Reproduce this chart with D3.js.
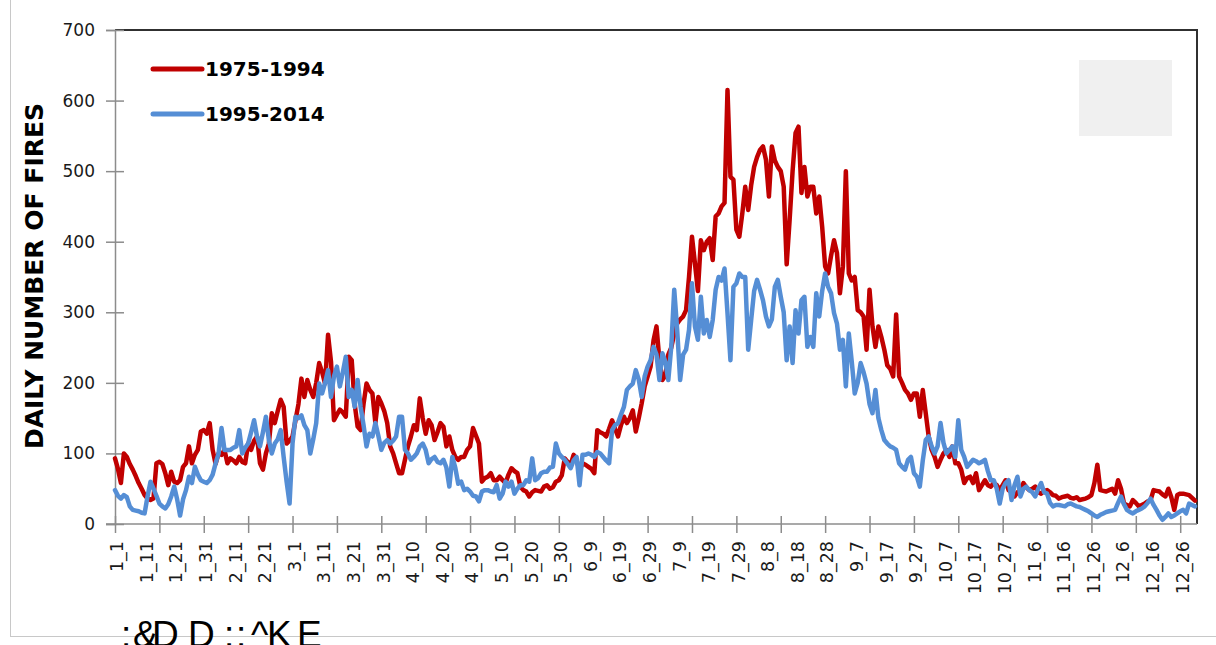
<!DOCTYPE html>
<html>
<head>
<meta charset="utf-8">
<script src="https://cdn.jsdelivr.net/npm/d3@7"></script>
<style>
  html, body { margin: 0; padding: 0; background: #fff; overflow: hidden; }
  svg { display: block; }
</style>
</head>
<body>
<div id="chart"></div>
<script>
// series names
const seriesNames = ["1975-1994", "1995-2014"];
const seriesColors = ["#c00000", "#558ed5"];

// day-of-year labels, one every 10 days
const dayLabels = ["1_1", "1_11", "1_21", "1_31", "2_11", "2_21", "3_1", "3_11", "3_21", "3_31",
  "4_10", "4_20", "4_30", "5_10", "5_20", "5_30", "6_9", "6_19", "6_29", "7_9",
  "7_19", "7_29", "8_8", "8_18", "8_28", "9_7", "9_17", "9_27", "10_7", "10_17",
  "10_27", "11_6", "11_16", "11_26", "12_6", "12_16", "12_26"];

const yTicks = [0, 100, 200, 300, 400, 500, 600, 700];

// daily number of fires, 1975-1994
const fires7594 = [
  93, 78, 58, 100, 95, 85, 77, 68, 58, 50,
  41, 36, 34, 36, 86, 88, 85, 72, 55, 74,
  60, 58, 62, 81, 86, 110, 86, 98, 105, 131,
  133, 128, 143, 105, 85, 100, 98, 105, 86, 93,
  90, 86, 95, 88, 86, 114, 105, 118, 124, 86,
  77, 100, 114, 157, 143, 160, 176, 166, 114, 118,
  124, 147, 170, 206, 180, 204, 190, 180, 200, 228,
  215, 199, 268, 230, 147, 155, 162, 158, 152, 237,
  232, 170, 138, 133, 170, 199, 190, 185, 143, 180,
  171, 160, 143, 110, 100, 86, 72, 72, 91, 110,
  124, 140, 133, 178, 150, 128, 147, 140, 119, 130,
  143, 138, 110, 124, 105, 95, 91, 95, 95, 105,
  110, 136, 125, 114, 60, 65, 67, 72, 62, 62,
  67, 62, 58, 70, 79, 75, 72, 53, 48, 46,
  39, 45, 48, 47, 46, 53, 55, 50, 52, 60,
  62, 69, 93, 88, 84, 98, 90, 76, 86, 84,
  81, 78, 72, 133, 130, 128, 124, 135, 147, 135,
  124, 140, 152, 143, 150, 161, 131, 150, 171, 195,
  209, 223, 260, 280, 232, 204, 210, 240, 250, 270,
  284, 290, 294, 303, 350, 407, 369, 330, 402, 388,
  400, 405, 374, 436, 440, 450, 455, 615, 492, 488,
  417, 407, 440, 478, 445, 480, 506, 520, 530, 535,
  516, 464, 535, 515, 506, 500, 478, 368, 431, 500,
  554, 563, 469, 506, 464, 478, 478, 440, 464, 421,
  365, 355, 380, 402, 384, 327, 365, 500, 355, 345,
  350, 303, 300, 294, 247, 332, 280, 251, 280, 265,
  247, 225, 220, 209, 297, 209, 200, 190, 185, 176,
  185, 185, 152, 190, 157, 124, 105, 95, 81, 91,
  100, 105, 95, 110, 86, 86, 77, 58, 65, 67,
  58, 72, 48, 55, 62, 55, 53, 58, 55, 48,
  55, 62, 48, 45, 39, 45, 48, 58, 52, 48,
  50, 53, 45, 43, 47, 48, 45, 41, 40, 36,
  38, 39, 40, 37, 36, 38, 34, 35, 36, 38,
  41, 58, 84, 48, 47, 46, 48, 50, 43, 62,
  50, 29, 27, 25, 34, 30, 25, 27, 29, 32,
  34, 48, 47, 46, 42, 39, 50, 38, 20, 41,
  43, 43, 42, 41, 37, 33
];

// daily number of fires, 1995-2014
const fires9514 = [
  48, 40, 36, 41, 38, 25, 20, 19, 18, 16,
  15, 39, 60, 50, 40, 29, 25, 22, 28, 39,
  53, 35, 12, 35, 48, 67, 58, 81, 70, 62,
  60, 58, 62, 70, 86, 100, 136, 105, 105, 105,
  108, 110, 133, 100, 108, 114, 130, 147, 124, 110,
  130, 152, 119, 100, 114, 120, 133, 95, 60, 29,
  114, 152, 150, 154, 140, 133, 100, 120, 143, 199,
  185, 200, 218, 180, 209, 223, 195, 215, 237, 180,
  190, 166, 204, 166, 140, 110, 128, 124, 143, 125,
  105, 115, 119, 114, 118, 124, 152, 152, 105, 100,
  91, 95, 100, 110, 114, 105, 86, 92, 95, 88,
  86, 91, 80, 53, 95, 80, 57, 60, 48, 50,
  46, 40, 39, 32, 46, 48, 48, 46, 45, 55,
  36, 43, 60, 53, 60, 43, 50, 55, 55, 62,
  60, 93, 62, 65, 72, 74, 74, 80, 81, 114,
  100, 95, 91, 85, 79, 90, 95, 55, 98, 98,
  100, 98, 95, 102, 100, 95, 90, 86, 133, 140,
  143, 155, 166, 190, 195, 199, 218, 205, 180, 209,
  223, 232, 251, 240, 204, 242, 230, 204, 251, 332,
  275, 204, 240, 247, 275, 341, 280, 261, 322, 270,
  289, 265, 289, 332, 350, 345, 362, 299, 232, 336,
  341, 355, 350, 350, 247, 289, 330, 346, 332, 317,
  294, 280, 290, 336, 346, 322, 300, 232, 280, 228,
  303, 270, 317, 322, 251, 265, 251, 327, 294, 330,
  355, 336, 327, 299, 284, 247, 261, 195, 270, 230,
  185, 200, 228, 215, 199, 170, 157, 190, 150, 133,
  119, 114, 110, 108, 105, 86, 81, 77, 91, 95,
  72, 67, 53, 90, 119, 124, 110, 100, 110, 143,
  115, 100, 105, 110, 95, 147, 105, 95, 81, 86,
  91, 89, 86, 88, 91, 75, 62, 62, 50, 29,
  50, 58, 62, 34, 55, 67, 39, 50, 53, 48,
  45, 39, 50, 58, 45, 43, 30, 25, 27, 27,
  26, 25, 28, 29, 27, 25, 24, 22, 20, 18,
  15, 12, 10, 13, 15, 17, 18, 19, 20, 30,
  39, 28, 20, 17, 15, 18, 20, 22, 25, 30,
  36, 27, 20, 12, 6, 10, 15, 10, 12, 15,
  18, 20, 15, 29, 27, 25
];

const allSeries = [fires7594, fires9514];

function drawChart() {
  const W = 1216, H = 645;
  const left = 115, right = 1197, top = 30, bottom = 524;

  const svg = d3.select("#chart")
    .append("svg")
    .attr("width", W)
    .attr("height", H)
    .style("font-family", "'DejaVu Sans', Verdana, sans-serif");

  // outer chart border
  svg.append("rect")
    .attr("x", 10.5).attr("y", -5)
    .attr("width", 1300).attr("height", 641.5)
    .attr("fill", "none")
    .attr("stroke", "#c8c8c8")
    .attr("stroke-width", 1);

  const x = d3.scaleLinear().domain([0, fires7594.length - 1]).range([left, right - 2]);
  const y = d3.scaleLinear().domain([0, 700]).range([bottom, top]);

  // plot frame top/right
  svg.append("path")
    .attr("d", `M${left},${top}H${right}V${bottom}`)
    .attr("fill", "none")
    .attr("stroke", "#303030")
    .attr("stroke-width", 2);

  // grey placeholder box
  svg.append("rect")
    .attr("x", 1079).attr("y", 60)
    .attr("width", 93).attr("height", 76)
    .attr("fill", "#f0f0f0");

  // y axis
  const yAxis = svg.append("g")
    .attr("transform", `translate(${left},0)`)
    .call(d3.axisLeft(y).tickValues(yTicks).tickSize(9).tickPadding(11));
  yAxis.select(".domain").attr("stroke", "#8c8c8c").attr("stroke-width", 1.5);
  yAxis.selectAll(".tick line").attr("x1", 9).attr("stroke", "#8c8c8c").attr("stroke-width", 1.5);
  yAxis.selectAll(".tick text")
    .attr("font-size", 17)
    .attr("font-family", "'DejaVu Sans', Verdana, sans-serif")
    .attr("fill", "#1a1a1a");

  // x axis, ticks every 15 days
  const tickDays = d3.range(0, 361, 15);
  const xAxis = svg.append("g")
    .attr("transform", `translate(0,${bottom})`)
    .call(d3.axisBottom(x).tickValues(tickDays).tickSize(9).tickFormat(""));
  xAxis.select(".domain").attr("stroke", "#8c8c8c").attr("stroke-width", 1.5)
    .attr("d", `M${left - 9},0H${right}`);
  xAxis.selectAll(".tick line").attr("y1", -8).attr("stroke", "#8c8c8c").attr("stroke-width", 1.5);

  // rotated day labels
  svg.append("g")
    .selectAll("text")
    .data(dayLabels)
    .enter()
    .append("text")
    .attr("transform", (_, i) => `translate(${x(i * 10) + 2},${bottom + 17}) rotate(-90)`)
    .attr("text-anchor", "end")
    .attr("dy", "0.36em")
    .attr("font-size", 17.5)
    .attr("fill", "#1a1a1a")
    .text(d => d);

  // y title
  svg.append("text")
    .attr("transform", `translate(34,276) rotate(-90)`)
    .attr("text-anchor", "middle")
    .attr("dy", "0.36em")
    .attr("font-size", 24.5)
    .attr("font-weight", "bold")
    .attr("textLength", 346)
    .attr("lengthAdjust", "spacingAndGlyphs")
    .attr("fill", "#000")
    .text("DAILY NUMBER OF FIRES");

  // lines
  const line = d3.line()
    .x((_, i) => x(i))
    .y(d => y(d));

  svg.append("g")
    .selectAll("path")
    .data(allSeries)
    .enter()
    .append("path")
    .attr("d", d => line(d))
    .attr("fill", "none")
    .attr("stroke", (_, i) => seriesColors[i])
    .attr("stroke-width", 4.5)
    .attr("stroke-linejoin", "round")
    .attr("stroke-linecap", "round");

  // legend
  const legend = svg.append("g");
  const legendY = [69, 114];
  legend.selectAll("line")
    .data(seriesNames)
    .enter()
    .append("line")
    .attr("x1", 153).attr("x2", 202)
    .attr("y1", (_, i) => legendY[i]).attr("y2", (_, i) => legendY[i])
    .attr("stroke", (_, i) => seriesColors[i])
    .attr("stroke-width", 5)
    .attr("stroke-linecap", "round");
  legend.selectAll("text")
    .data(seriesNames)
    .enter()
    .append("text")
    .attr("x", 205)
    .attr("y", (_, i) => legendY[i])
    .attr("dy", "0.36em")
    .attr("font-size", 20)
    .attr("font-weight", "bold")
    .attr("fill", "#000")
    .text(d => d);

  // stray caption at the bottom, one x per character
  svg.append("text")
    .attr("x", "121 133 152 180 188 224 236 251 267 297")
    .attr("y", 647)
    .attr("font-family", "'Liberation Sans', Arial, sans-serif")
    .attr("font-size", 37)
    .attr("fill", "#000")
    .text(":&D D::^KE");
}

drawChart();
</script>
</body>
</html>
